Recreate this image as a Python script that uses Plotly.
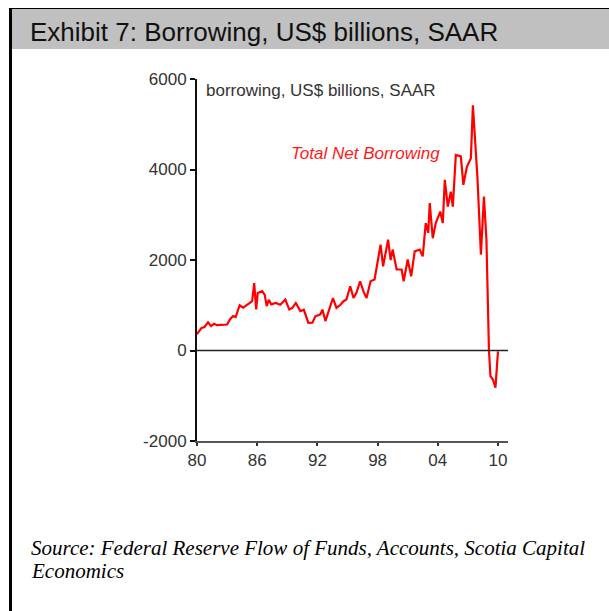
import plotly.graph_objects as go

# Total net borrowing, US$ billions, SAAR (decimal year, value)
years = [
    1980.0, 1980.45, 1980.75, 1981.1, 1981.4, 1981.7, 1982.0, 1982.5, 1983.0,
    1983.3, 1983.6, 1983.85, 1984.25, 1984.6, 1985.05, 1985.5, 1985.7, 1985.9,
    1986.05, 1986.5, 1986.75, 1986.95, 1987.15, 1987.4, 1987.85, 1988.3, 1988.8,
    1989.2, 1989.5, 1989.85, 1990.3, 1990.65, 1991.1, 1991.5, 1991.8, 1992.3,
    1992.5, 1992.8, 1993.55, 1993.9, 1994.3, 1994.6, 1994.9, 1995.27, 1995.6,
    1995.9, 1996.26, 1996.6, 1996.9, 1997.3, 1997.7, 1998.3, 1998.55, 1999.05,
    1999.3, 1999.5, 1999.9, 2000.4, 2000.6, 2001.0, 2001.35, 2001.7, 2002.2,
    2002.5, 2002.8, 2003.05, 2003.2, 2003.5, 2003.8, 2004.25, 2004.5, 2004.7,
    2005.0, 2005.3, 2005.5, 2005.8, 2006.3, 2006.55, 2006.9, 2007.3, 2007.5,
    2007.95, 2008.3, 2008.6, 2008.85, 2009.1, 2009.25, 2009.5, 2009.75, 2010.0,
]
borrowing = [
    360, 500, 520, 625, 540, 590, 560, 570, 575,
    690, 760, 740, 1000, 945, 1015, 1090, 1490, 910,
    1270, 1310, 1230, 980, 1120, 1020, 1050, 1010, 1125,
    905, 940, 1050, 870, 900, 610, 615, 757, 800,
    904, 650, 1160, 940, 1010, 1090, 1125, 1420, 1160,
    1280, 1530, 1300, 1160, 1530, 1570, 2340, 1860, 2450,
    2000, 2230, 1790, 1790, 1530, 2010, 1640, 2190, 2230,
    2080, 2815, 2600, 3260, 2480, 2815, 3070, 2815, 3770,
    3180, 3510, 3180, 4320, 4290, 3660, 4060, 4250, 5420,
    3840, 2120, 3400, 2450, 20, -570, -640, -820, -20,
]

tick_years = [1980, 1986, 1992, 1998, 2004, 2010]
tick_text = ["80", "86", "92", "98", "04", "10"]

W, H = 609, 611
L, R, T, B = 197, 508, 79, 441  # plot area in pixels


def px(x):
    return (x - L) / (R - L)


def py(y):
    return (B - y) / (B - T)


fig = go.Figure()

fig.add_trace(go.Scatter(
    x=years, y=borrowing, mode="lines",
    line=dict(color="#ff0000", width=2.2),
    hoverinfo="skip", showlegend=False,
))

shapes = [
    # grey title band
    dict(type="rect", xref="paper", yref="paper",
         x0=px(11), x1=px(609), y0=py(49), y1=py(9),
         fillcolor="#c0c0c0", line=dict(width=0), layer="below"),
    # frame: top and left edges
    dict(type="line", xref="paper", yref="paper",
         x0=px(9), x1=px(609), y0=py(8.5), y1=py(8.5),
         line=dict(color="#000000", width=1.2)),
    dict(type="line", xref="paper", yref="paper",
         x0=px(10.5), x1=px(10.5), y0=py(8), y1=py(611),
         line=dict(color="#000000", width=3)),
    # zero line
    dict(type="line", xref="x", yref="y",
         x0=1980, x1=2011, y0=0, y1=0,
         line=dict(color="#222222", width=1.6)),
]

serif = "Liberation Serif, Times New Roman, serif"
sans = "Liberation Sans, Arial, sans-serif"

annotations = [
    dict(text="Exhibit 7: Borrowing, US$ billions, SAAR",
         xref="paper", yref="paper", x=px(28), y=py(32),
         xanchor="left", yanchor="middle", showarrow=False,
         font=dict(family="Liberation Sans Narrow, Arial Narrow, Liberation Sans, sans-serif",
                   size=26, color="#111111")),
    dict(text="borrowing, US$ billions, SAAR",
         xref="paper", yref="paper", x=px(204), y=py(90),
         xanchor="left", yanchor="middle", showarrow=False,
         font=dict(family=sans, size=17, color="#333333")),
    dict(text="<i>Total Net Borrowing</i>",
         xref="paper", yref="paper", x=px(289), y=py(153),
         xanchor="left", yanchor="middle", showarrow=False,
         font=dict(family=sans, size=17, color="#ff1a1a")),
    dict(text="<i>Source: Federal Reserve Flow of Funds, Accounts, Scotia Capital</i>",
         xref="paper", yref="paper", x=px(29), y=py(548),
         xanchor="left", yanchor="middle", showarrow=False,
         font=dict(family=serif, size=21, color="#000000")),
    dict(text="<i>Economics</i>",
         xref="paper", yref="paper", x=px(29), y=py(571),
         xanchor="left", yanchor="middle", showarrow=False,
         font=dict(family=serif, size=21, color="#000000")),
]

fig.update_layout(
    width=W, height=H,
    margin=dict(l=L, r=W - R, t=T, b=H - B, pad=0),
    paper_bgcolor="white", plot_bgcolor="white",
    shapes=shapes, annotations=annotations,
    showlegend=False,
    xaxis=dict(
        range=[1980, 2011], tickvals=tick_years, ticktext=tick_text,
        showgrid=False, zeroline=False,
        showline=True, linecolor="#555555", linewidth=2,
        ticks="outside", ticklen=3, tickcolor="#333333", tickwidth=1.5,
        tickfont=dict(family=sans, size=17, color="#333333"),
    ),
    yaxis=dict(
        range=[-2000, 6000], tickvals=[-2000, 0, 2000, 4000, 6000],
        ticktext=["-2000", "0", "2000", "4000", "6000"],
        showgrid=False, zeroline=False,
        showline=True, linecolor="#111111", linewidth=2,
        ticks="outside", ticklen=5, tickcolor="#111111", tickwidth=1.5,
        tickfont=dict(family=sans, size=17, color="#333333"),
    ),
)

fig.write_html("out.html")
